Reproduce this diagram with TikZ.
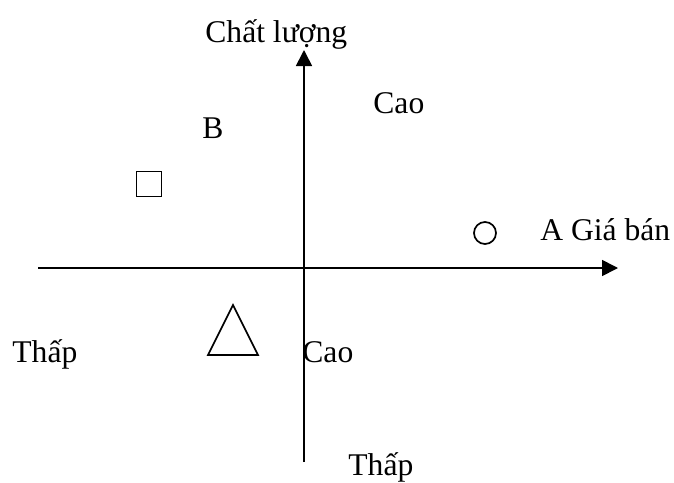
\documentclass[tikz,border=0pt]{standalone}
\usepackage{fontspec}
\setmainfont{Liberation Serif}
\usetikzlibrary{arrows.meta,positioning}
\tikzset{
  lbl/.style={anchor=base west, inner sep=0pt, font=\fontsize{15.8}{18}\selectfont},
  axis/.style={-{Triangle[length=8pt,width=8pt]}, line width=0.85pt},
  mark shape/.style={draw, line width=0.85pt, inner sep=0pt}
}
\begin{document}
\begin{tikzpicture}[x=0.5pt,y=-0.5pt]
  \useasboundingbox (0,0) rectangle (674,482);
  % axes
  \coordinate (xleft) at (38,268);
  \coordinate (xright) at (618,268);
  \coordinate (ybottom) at (304,462);
  \coordinate (ytop) at (304,50);
  \draw[axis] (xleft) -- (xright);
  \draw[axis] (ybottom) -- (ytop);
  % labels
  \node[lbl] (quality) at (205,42) {Chất lượng};
  \node[lbl] (highq) at (373,113) {Cao};
  \node[lbl] (lowq) at (348,475) {Thấp};
  \node[lbl] (price) at (540,240) {A Giá bán};
  \node[lbl] (lowp) at (12,362) {Thấp};
  \node[lbl] (highp) at (302,362) {Cao};
  \node[lbl] (nameB) at (202,138) {B};
  % products
  \node[mark shape, minimum size=12.5pt] (prodB) at (149,184) {};
  \node[mark shape, circle, minimum size=11pt] (prodA) at (485,233) {};
  \draw[line width=0.85pt] (208,355) -- (233,305) -- (258,355) -- cycle;
\end{tikzpicture}
\end{document}
